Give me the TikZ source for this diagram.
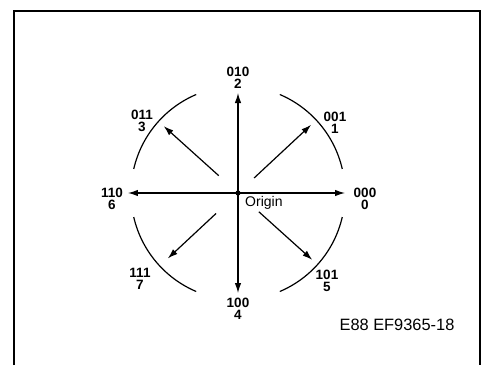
\documentclass[tikz,border=0pt]{standalone}
\usepackage{fontspec}
\setmainfont{Liberation Sans}
\usetikzlibrary{arrows.meta, math}

\tikzset{
  code/.style={font=\fontsize{13.5}{12.5}\selectfont\bfseries, align=center, inner sep=0pt},
  vec/.style={-{Latex[length=10pt,width=6.5pt]}, line width=1.2pt},
  ring/.style={line width=1.2pt},
}

\begin{document}
\begin{tikzpicture}[x=1pt,y=1pt]
\tikzmath{
\R=107; \a=13; \b=67; \r=100;
}
\useasboundingbox (-238,-172) rectangle (246,193);

% frame
\draw[line width=1.4pt] (-224,-172) -- (-224,182) -- (242,182) -- (242,-172);

% arcs
\draw[ring] (\a:\R) arc[start angle=\a, end angle=\b, radius=\R];
\draw[ring] (180-\b:\R) arc[start angle=180-\b, end angle=180-\a, radius=\R];
\draw[ring] (180+\a:\R) arc[start angle=180+\a, end angle=180+\b, radius=\R];
\draw[ring] (-\b:\R) arc[start angle=-\b, end angle=-\a, radius=\R];

% origin
\coordinate (O) at (0,0);
\fill (O) circle (2.6);
\node[font=\fontsize{14}{12}\selectfont, anchor=west, inner sep=0pt] (orig) at (7,-10) {Origin};

% end points
\coordinate (e0) at (107,0);
\coordinate (e1) at (43:\r);
\coordinate (e2) at (0,100);
\coordinate (e3) at (138:\r);
\coordinate (e4) at (0,-100);
\coordinate (e5) at (-42:\r);
\coordinate (e6) at (-110,0);
\coordinate (e7) at (-137:96);

% arrows
\draw[vec] (O) -- (e0);
\draw[vec] (O) -- (e2);
\draw[vec] (O) -- (e4);
\draw[vec] (O) -- (e6);
\draw[vec, shorten <=22pt] (O) -- (e1);
\draw[vec, shorten <=26pt] (O) -- (e3);
\draw[vec, shorten <=28pt] (O) -- (e5);
\draw[vec, shorten <=30pt] (O) -- (e7);

% labels
\node[code] (n0) at (127,-6) {000\\0};
\node[code] (n1) at (97,70) {001\\1};
\node[code] (n2) at (0,115) {010\\2};
\node[code] (n3) at (-96,72) {011\\3};
\node[code] (n4) at (0,-116) {100\\4};
\node[code] (n5) at (89,-88) {101\\5};
\node[code] (n6) at (-126,-6) {110\\6};
\node[code] (n7) at (-98,-86) {111\\7};

\node[font=\fontsize{16.4}{18}\selectfont, inner sep=0pt] (ref) at (159,-132) {E88 EF9365-18};
\end{tikzpicture}
\end{document}
